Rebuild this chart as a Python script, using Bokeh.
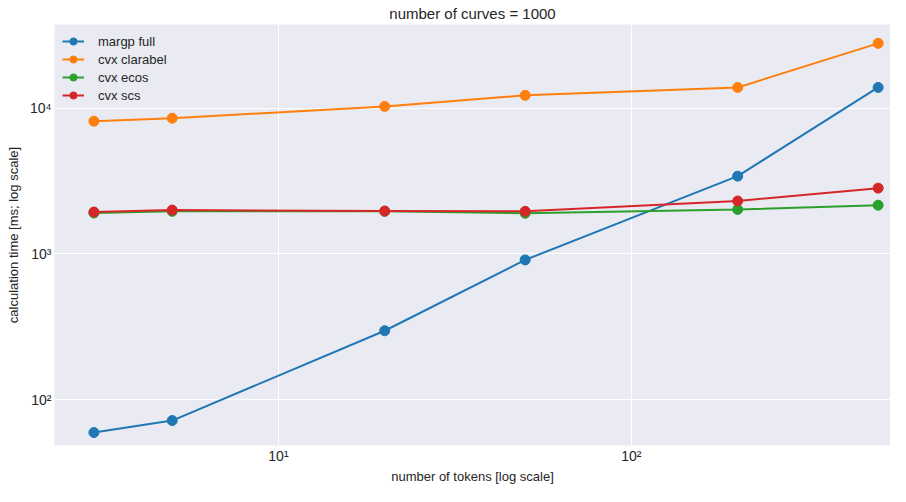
from bokeh.plotting import figure
from bokeh.models import Range1d, FixedTicker, Legend, LegendItem
from bokeh.embed import file_html
from bokeh.resources import INLINE

tokens = [3, 5, 20, 50, 200, 500]
margp_full = [59.4, 71.8, 297, 910, 3420, 13900]
cvx_clarabel = [8150, 8550, 10300, 12270, 13900, 27900]
cvx_ecos = [1910, 1960, 1960, 1900, 2020, 2160]
cvx_scs = [1940, 2000, 1970, 1960, 2310, 2830]

series = [
    ("margp full", margp_full, "#1f77b4"),
    ("cvx clarabel", cvx_clarabel, "#ff7f0e"),
    ("cvx ecos", cvx_ecos, "#2ca02c"),
    ("cvx scs", cvx_scs, "#d62728"),
]

FONT = "Liberation Sans"
TXT = "#262626"

p = figure(width=890, height=486, x_axis_type="log", y_axis_type="log",
           x_range=Range1d(2.32, 542), y_range=Range1d(48.4, 37600),
           output_backend="svg", toolbar_location=None,
           title="number of curves = 1000",
           min_border_left=54, min_border_right=0, min_border_bottom=0, min_border_top=1)

p.background_fill_color = "#EAEAF2"
p.border_fill_color = "white"
p.outline_line_color = None

p.title.align = "center"
p.title.text_font = FONT
p.title.text_font_size = "15px"
p.title.text_font_style = "normal"
p.title.text_color = TXT
p.title.standoff = 5

p.xaxis.ticker = FixedTicker(ticks=[10, 100], minor_ticks=[])
p.yaxis.ticker = FixedTicker(ticks=[100, 1000, 10000], minor_ticks=[])
p.xaxis.major_label_overrides = {10: "10¹", 100: "10²"}
p.yaxis.major_label_overrides = {100: "10²", 1000: "10³", 10000: "10⁴"}

for ax in (p.xaxis, p.yaxis):
    ax.axis_line_color = None
    ax.major_tick_line_color = None
    ax.minor_tick_line_color = None
    ax.major_tick_out = 0
    ax.major_tick_in = 0
    ax.major_label_text_font = FONT
    ax.major_label_text_font_size = "14px"
    ax.major_label_text_color = TXT
    ax.axis_label_text_font = FONT
    ax.axis_label_text_font_size = "13px"
    ax.axis_label_text_font_style = "normal"
    ax.axis_label_text_color = TXT

p.xaxis.major_label_standoff = 2
p.xaxis.axis_label_standoff = 2
p.yaxis.major_label_standoff = 3
p.yaxis.axis_label_standoff = 6

p.xaxis.axis_label = "number of tokens [log scale]"
p.yaxis.axis_label = "calculation time [ms; log scale]"

p.grid.grid_line_color = "white"
p.grid.grid_line_width = 1
p.grid.minor_grid_line_color = None

items = []
for name, vals, col in series:
    r1 = p.line(tokens, vals, line_color=col, line_width=2)
    r2 = p.scatter(tokens, vals, size=10, fill_color=col, line_color=col)
    items.append(LegendItem(label=name, renderers=[r1, r2]))

legend = Legend(items=items, location="top_left")
legend.background_fill_alpha = 0
legend.border_line_color = None
legend.label_text_font = FONT
legend.label_text_font_size = "13px"
legend.label_text_color = TXT
legend.glyph_width = 22
legend.glyph_height = 18
legend.label_height = 18
legend.spacing = 0
legend.margin = 8
legend.padding = 5
legend.label_standoff = 14
p.add_layout(legend)

open("out.html", "w").write(file_html(p, INLINE))
